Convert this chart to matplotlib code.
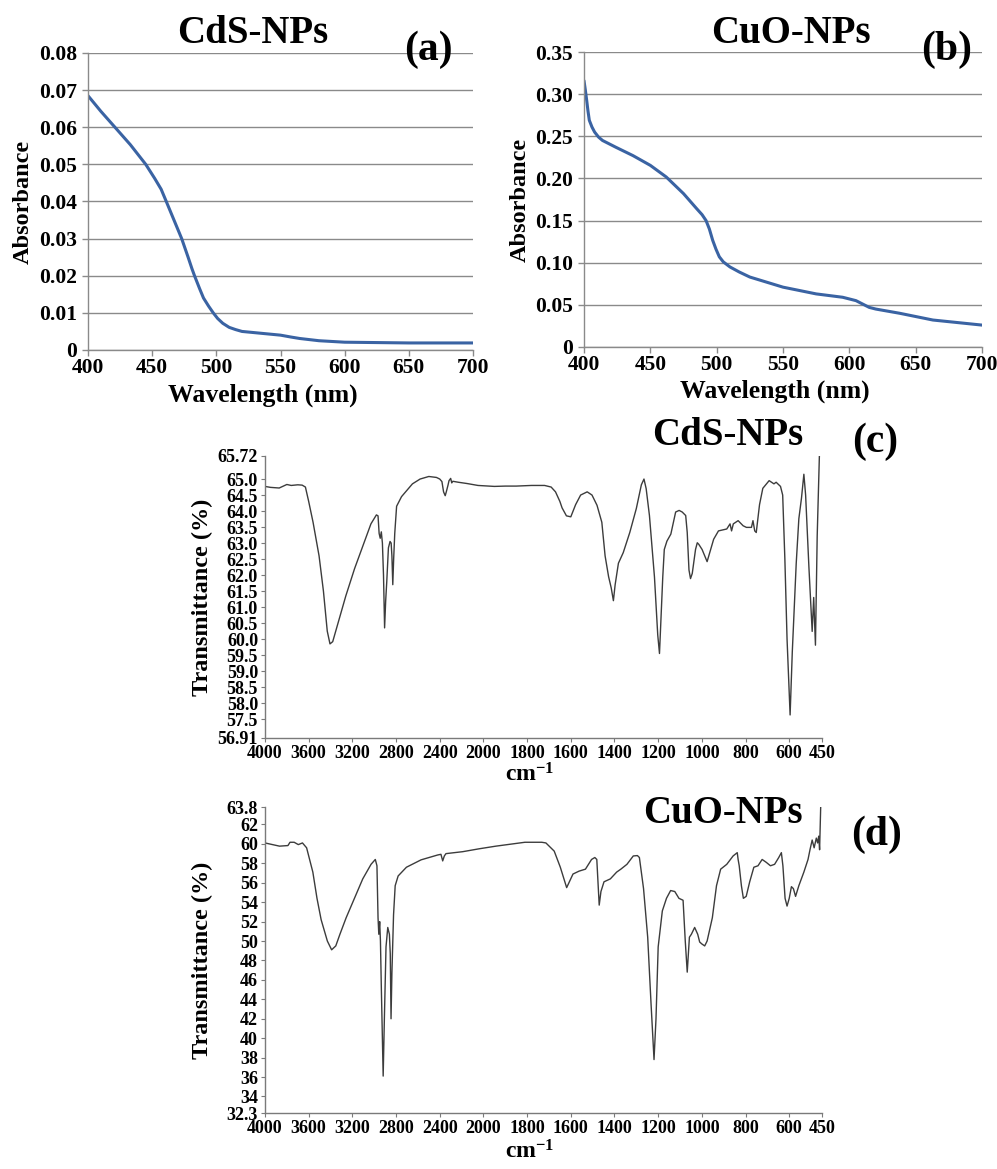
import numpy as np
import matplotlib
matplotlib.use("Agg")
import matplotlib.pyplot as plt

plt.rcParams['font.family'] = ['Liberation Serif', 'DejaVu Serif']
plt.rcParams['font.weight'] = 'bold'
plt.rcParams['mathtext.fontset'] = 'custom'
plt.rcParams['mathtext.rm'] = 'Liberation Serif:bold'
plt.rcParams['mathtext.it'] = 'Liberation Serif:bold'
plt.rcParams['mathtext.bf'] = 'Liberation Serif:bold'

# UV-vis absorbance
cds_uv_wl = [400, 410, 421, 433, 445, 452, 457, 461, 464, 467, 470, 473, 476, 478, 481, 483,
             487, 490, 494, 497.6, 501, 505, 510, 515, 520, 535, 550, 558, 565, 580, 600, 650, 700]
cds_uv_abs = [0.0685, 0.0643, 0.0600, 0.0553, 0.0500, 0.0462, 0.0433, 0.0400, 0.0375, 0.0350,
              0.0325, 0.0300, 0.0270, 0.0250, 0.0219, 0.0200, 0.0165, 0.0140, 0.0118, 0.0100,
              0.0085, 0.0072, 0.0061, 0.0055, 0.0050, 0.0045, 0.0040, 0.0035, 0.0031, 0.0025,
              0.0021, 0.0019, 0.0019]

cuo_uv_wl = [400, 401, 402, 403, 404, 406, 408, 411, 414, 424, 437, 450, 462, 475, 485, 489,
             492, 494.5, 497, 499.5, 502, 505, 510, 517, 525, 550, 575, 595, 600, 605, 610, 615,
             620, 638, 663, 700]
cuo_uv_abs = [0.316, 0.305, 0.293, 0.280, 0.269, 0.261, 0.255, 0.249, 0.245, 0.237, 0.227,
              0.2155, 0.2017, 0.182, 0.164, 0.157, 0.150, 0.140, 0.1266, 0.116, 0.107, 0.101,
              0.095, 0.089, 0.083, 0.071, 0.063, 0.059, 0.057, 0.055, 0.051, 0.047, 0.045, 0.040,
              0.032, 0.026]

# FTIR transmittance
cds_ir_wn = [4000, 3950, 3870, 3800, 3760, 3700, 3660, 3630, 3600, 3560, 3505, 3465, 3430, 3405,
             3380, 3340, 3260, 3180, 3100, 3030, 2980, 2965, 2955, 2945, 2935, 2925, 2915, 2905,
             2895, 2885, 2870, 2855, 2845, 2838, 2830, 2822, 2812, 2795, 2750, 2700, 2650, 2580,
             2500, 2430, 2400, 2380, 2365, 2350, 2340, 2325, 2315, 2300, 2290, 2280, 2230, 2150,
             2050, 2000, 1950, 1900, 1850, 1780, 1720, 1690, 1670, 1650, 1640, 1620, 1600, 1578,
             1555, 1525, 1503, 1480, 1458, 1443, 1427, 1415, 1405, 1397, 1382, 1360, 1330, 1300,
             1277, 1265, 1255, 1240, 1217, 1202, 1194, 1187, 1179, 1172, 1160, 1142, 1120, 1104,
             1090, 1074, 1067, 1059, 1052, 1044, 1029, 1021, 1014, 999, 976, 946, 924, 886, 871,
             864, 856, 834, 811, 796, 773, 766, 758, 751, 736, 721, 692, 670, 660, 640, 630, 620,
             610, 596, 586, 568, 556, 544, 533, 525, 510, 503, 495, 488, 480, 472, 462]
cds_ir_t = [64.77, 64.74, 64.72, 64.83, 64.80, 64.82, 64.81, 64.75, 64.3, 63.65, 62.6, 61.5,
            60.25, 59.85, 59.92, 60.4, 61.35, 62.2, 62.95, 63.6, 63.88, 63.85, 63.3, 63.15, 63.35,
            63.0, 62.0, 60.35, 61.2, 61.8, 62.85, 63.05, 63.0, 62.6, 61.7, 62.5, 63.3, 64.15, 64.45,
            64.65, 64.85, 65.0, 65.08, 65.05, 65.0, 64.92, 64.6, 64.48, 64.6, 64.8, 64.95, 65.02,
            64.88, 64.93, 64.9, 64.86, 64.8, 64.79, 64.77, 64.78, 64.78, 64.8, 64.8, 64.75, 64.6,
            64.3, 64.1, 63.85, 63.82, 64.2, 64.5, 64.6, 64.5, 64.18, 63.65, 62.6, 61.95, 61.6,
            61.2, 61.7, 62.37, 62.7, 63.33, 64.08, 64.82, 65.0, 64.7, 63.86, 61.94, 60.13, 59.55,
            60.66, 61.94, 62.8, 63.06, 63.28, 63.97, 64.02, 63.97, 63.86, 63.33, 62.16, 61.89,
            62.05, 62.8, 63.01, 62.96, 62.8, 62.42, 63.12, 63.38, 63.44, 63.6, 63.38, 63.6, 63.7,
            63.54, 63.49, 63.49, 63.7, 63.38, 63.33, 64.2, 64.71, 64.95, 64.85, 64.9, 64.77, 64.5,
            62.5, 60.0, 57.63, 59.6, 62.37, 63.76, 64.4, 65.15, 64.5, 62.26, 61.3, 60.24, 61.3,
            59.81, 63.22, 65.72]

cuo_ir_wn = [4000, 3867, 3790, 3771, 3733, 3695, 3657, 3619, 3562, 3524, 3486, 3429, 3390, 3352,
             3314, 3257, 3181, 3105, 3029, 2990, 2975, 2965, 2958, 2950, 2943, 2935, 2918, 2907,
             2892, 2876, 2861, 2853, 2846, 2838, 2823, 2808, 2781, 2705, 2571, 2419, 2389, 2373,
             2358, 2343, 2190, 2038, 1943, 1867, 1810, 1733, 1714, 1676, 1648, 1619, 1590, 1562,
             1533, 1505, 1490, 1481, 1470, 1462, 1448, 1419, 1390, 1371, 1343, 1314, 1295, 1286,
             1267, 1248, 1233, 1219, 1210, 1200, 1181, 1162, 1143, 1124, 1105, 1086, 1076, 1067,
             1057, 1048, 1033, 1019, 1010, 1000, 987, 976, 952, 933, 914, 886, 857, 838, 834, 829,
             819, 810, 797, 781, 762, 743, 724, 705, 686, 667, 648, 636, 629, 619, 610, 600, 590,
             581, 571, 556, 533, 514, 505, 495, 486, 476, 470, 465, 461, 456]
cuo_ir_t = [60.1, 59.77, 59.83, 60.17, 60.17, 59.93, 60.1, 59.6, 57.1, 54.4, 52.2, 50.0, 49.1,
            49.5, 50.7, 52.4, 54.4, 56.4, 57.9, 58.4, 57.75, 52.4, 50.7, 52.0, 50.0, 45.3, 36.1,
            42.0, 49.4, 51.4, 50.7, 48.7, 42.0, 46.7, 52.7, 55.7, 56.7, 57.6, 58.36, 58.86, 58.93,
            58.25, 58.76, 59.0, 59.2, 59.5, 59.77, 60.0, 60.17, 60.17, 60.1, 59.26, 57.6, 55.5,
            56.9, 57.2, 57.4, 58.4, 58.6, 58.4, 53.7, 55.1, 56.1, 56.4, 57.1, 57.4, 57.9, 58.76,
            58.8, 58.6, 55.4, 50.4, 43.7, 37.8, 42.0, 49.4, 53.1, 54.4, 55.2, 55.1, 54.4, 54.2,
            50.0, 46.8, 50.4, 50.7, 51.4, 50.7, 49.9, 49.7, 49.5, 50.0, 52.4, 55.7, 57.4, 57.9,
            58.76, 59.1, 58.4, 57.75, 55.7, 54.4, 54.6, 56.1, 57.6, 57.75, 58.4, 58.1, 57.75, 57.9,
            58.6, 59.1, 57.75, 54.4, 53.6, 54.4, 55.6, 55.4, 54.6, 55.7, 57.1, 58.4, 59.4, 60.4,
            59.6, 60.6, 60.1, 60.8, 59.4, 63.8]

uv_xticks = [400, 450, 500, 550, 600, 650, 700]
cds_uv_yticks = [0, 0.01, 0.02, 0.03, 0.04, 0.05, 0.06, 0.07, 0.08]
cds_uv_ylabels = ['0', '0.01', '0.02', '0.03', '0.04', '0.05', '0.06', '0.07', '0.08']
cuo_uv_yticks = [0, 0.05, 0.10, 0.15, 0.20, 0.25, 0.30, 0.35]
cuo_uv_ylabels = ['0', '0.05', '0.10', '0.15', '0.20', '0.25', '0.30', '0.35']

ir_xticks = [4000, 3600, 3200, 2800, 2400, 2000, 1800, 1600, 1400, 1200, 1000, 800, 600, 450]
cds_ir_yticks = [56.91, 57.5, 58.0, 58.5, 59.0, 59.5, 60.0, 60.5, 61.0, 61.5, 62.0, 62.5,
                 63.0, 63.5, 64.0, 64.5, 65.0, 65.72]
cds_ir_ylabels = ['56.91', '57.5', '58.0', '58.5', '59.0', '59.5', '60.0', '60.5', '61.0',
                  '61.5', '62.0', '62.5', '63.0', '63.5', '64.0', '64.5', '65.0', '65.72']
cuo_ir_yticks = [32.3, 34, 36, 38, 40, 42, 44, 46, 48, 50, 52, 54, 56, 58, 60, 62, 63.8]
cuo_ir_ylabels = ['32.3', '34', '36', '38', '40', '42', '44', '46', '48', '50', '52', '54',
                  '56', '58', '60', '62', '63.8']

W, H = 997.0, 1169.0


def px_axes(fig, left, top, right, bottom):
    return fig.add_axes([left / W, 1 - bottom / H, (right - left) / W, (bottom - top) / H])


# below 2000 cm-1 the axis is stretched two-fold
def ir_fwd(w):
    w = np.asarray(w, dtype=float)
    return np.where(w <= 2000, w / 200.0, 10 + (w - 2000) / 400.0)


def ir_inv(u):
    u = np.asarray(u, dtype=float)
    return np.where(u <= 10, u * 200.0, 2000 + (u - 10) * 400.0)


def uv_panel(ax, x, y, yticks, ylabels, ymax, ylab_x, xlab_x):
    gc = '#8a8a8a'
    ax.plot(x, y, color='#3a63a3', lw=2.2, solid_capstyle='round', solid_joinstyle='round')
    ax.set_xlim(400, 700)
    ax.set_ylim(0, ymax)
    ax.set_xticks(uv_xticks)
    ax.set_xticklabels([str(t) for t in uv_xticks])
    ax.set_yticks(yticks)
    ax.set_yticklabels(ylabels)
    ax.yaxis.grid(True, color=gc, lw=1.0)
    ax.set_axisbelow(True)
    for s in ['top', 'right']:
        ax.spines[s].set_visible(False)
    for s in ['left', 'bottom']:
        ax.spines[s].set_color(gc)
        ax.spines[s].set_linewidth(1.0)
    ax.tick_params(axis='both', colors=gc, labelcolor='black', labelsize=15.5,
                   length=4, width=1, pad=4)
    ax.tick_params(axis='x', pad=2)
    for lb in ax.get_xticklabels() + ax.get_yticklabels():
        lb.set_fontweight('bold')
    ax.set_ylabel('Absorbance', fontsize=17.5, fontweight='bold')
    ax.yaxis.set_label_coords(ylab_x, 0.5)
    ax.set_xlabel('Wavelength (nm)', fontsize=18.5, fontweight='bold')
    ax.xaxis.set_label_coords(xlab_x, -0.112)


def ir_panel(ax, x, y, yticks, ylabels, lab_y):
    ac = '#7a7a7a'
    ax.set_xscale('function', functions=(ir_fwd, ir_inv))
    ax.plot(x, y, color='#3c3c3c', lw=1.0)
    ax.set_xlim(4000, 450)
    ax.set_ylim(yticks[0], yticks[-1])
    ax.set_xticks(ir_xticks)
    ax.set_xticklabels([str(t) for t in ir_xticks])
    ax.set_yticks(yticks)
    ax.set_yticklabels(ylabels)
    ax.minorticks_off()
    for s in ['top', 'right']:
        ax.spines[s].set_visible(False)
    for s in ['left', 'bottom']:
        ax.spines[s].set_color(ac)
        ax.spines[s].set_linewidth(1.0)
    ax.tick_params(axis='both', colors=ac, labelcolor='black', labelsize=13,
                   length=3, width=0.8, pad=2)
    for lb in ax.get_xticklabels() + ax.get_yticklabels():
        lb.set_fontweight('bold')
    ax.set_ylabel('Transmittance (%)', fontsize=17.5, fontweight='bold')
    ax.yaxis.set_label_coords(-0.093, 0.5)
    ax.set_xlabel(r'cm$^{-1}$', fontsize=17, fontweight='bold')
    ax.xaxis.set_label_coords(0.476, lab_y)


fig = plt.figure(figsize=(W / 100, H / 100), dpi=100)

ax_a = px_axes(fig, 88, 53, 473, 350)
uv_panel(ax_a, cds_uv_wl, cds_uv_abs, cds_uv_yticks, cds_uv_ylabels, 0.08, -0.14, 0.455)

ax_b = px_axes(fig, 584, 52, 982, 347)
uv_panel(ax_b, cuo_uv_wl, cuo_uv_abs, cuo_uv_yticks, cuo_uv_ylabels, 0.35, -0.133, 0.48)

ax_c = px_axes(fig, 265, 456, 822, 738)
ir_panel(ax_c, cds_ir_wn, cds_ir_t, cds_ir_yticks, cds_ir_ylabels, -0.09)

ax_d = px_axes(fig, 265, 807, 822, 1113)
ir_panel(ax_d, cuo_ir_wn, cuo_ir_t, cuo_ir_yticks, cuo_ir_ylabels, -0.09)


def label(x, y, s, size):
    fig.text(x / W, 1 - y / H, s, fontsize=size, fontweight='bold',
             ha='center', va='baseline')


label(253, 43, 'CdS-NPs', 28)
label(428, 60, '(a)', 30)
label(791, 43, 'CuO-NPs', 28)
label(947, 60, '(b)', 30)
label(728, 445, 'CdS-NPs', 28)
label(875, 452, '(c)', 30)
label(723, 823, 'CuO-NPs', 28)
label(877, 845, '(d)', 30)

fig.savefig('out.png', dpi=100)
